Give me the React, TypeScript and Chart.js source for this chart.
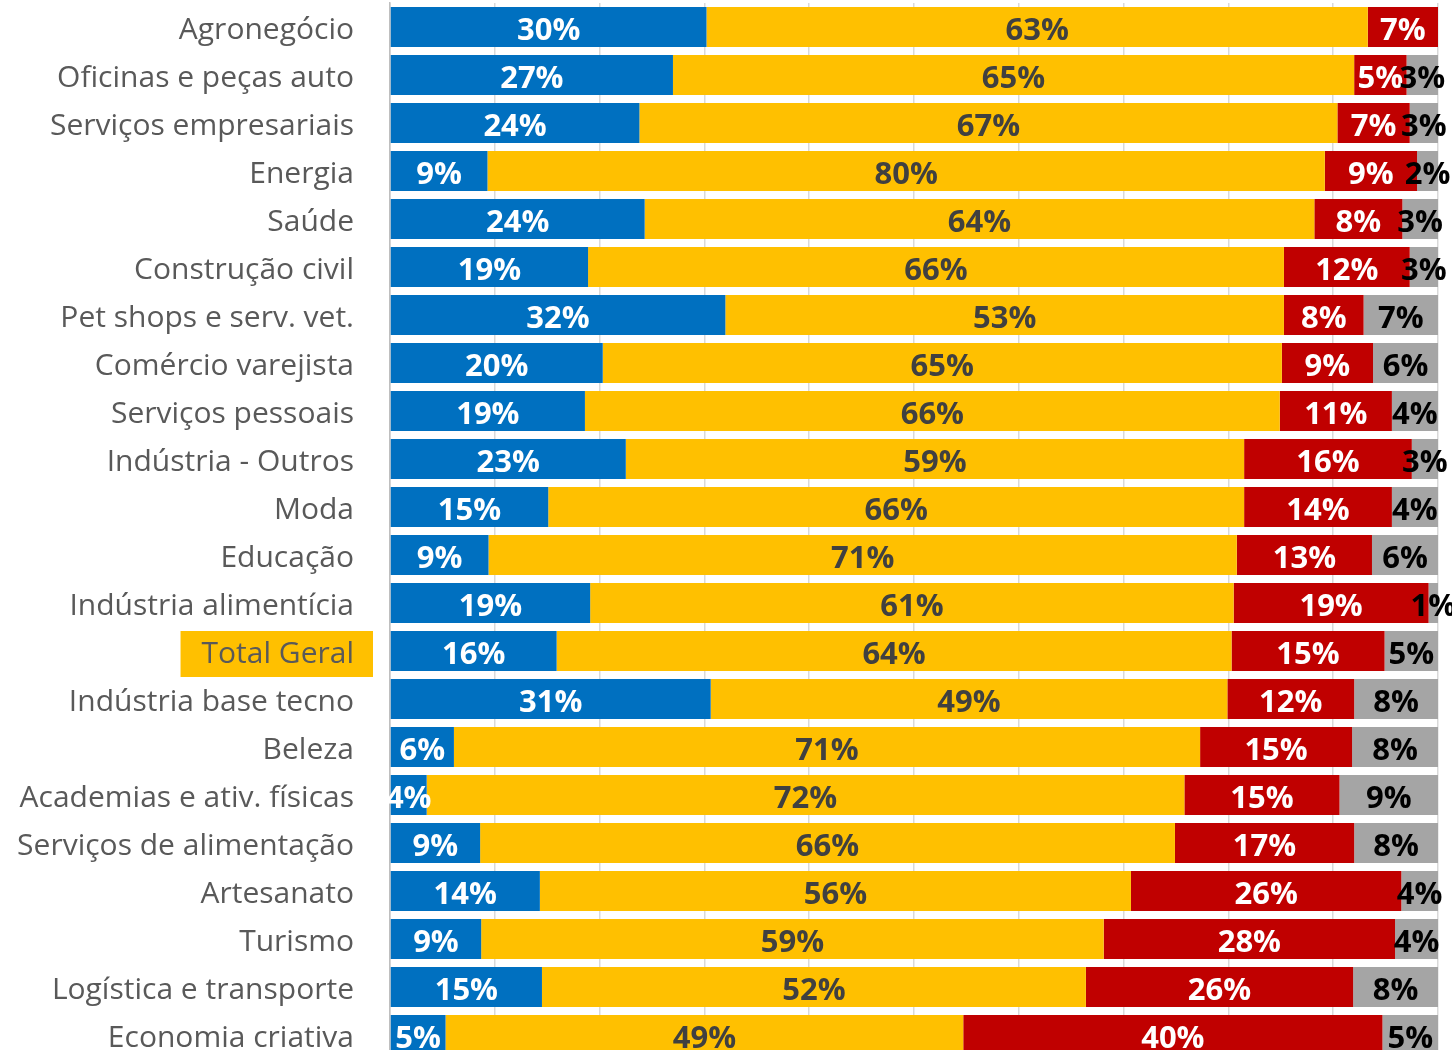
import React, { useEffect, useRef } from "react";
import { Chart, registerables } from "chart.js";

Chart.register(...registerables);

const categories = [
  "Agronegócio",
  "Oficinas e peças auto",
  "Serviços empresariais",
  "Energia",
  "Saúde",
  "Construção civil",
  "Pet shops e serv. vet.",
  "Comércio varejista",
  "Serviços pessoais",
  "Indústria - Outros",
  "Moda",
  "Educação",
  "Indústria alimentícia",
  "Total Geral",
  "Indústria base tecno",
  "Beleza",
  "Academias e ativ. físicas",
  "Serviços de alimentação",
  "Artesanato",
  "Turismo",
  "Logística e transporte",
  "Economia criativa",
];

const serieAzul = [30.2, 27.0, 23.8, 9.3, 24.3, 18.9, 32.0, 20.3, 18.6, 22.5, 15.1, 9.4, 19.1, 15.9, 30.6, 6.1, 3.5, 8.6, 14.3, 8.7, 14.5, 5.3];
const serieAmarela = [63.1, 65.0, 66.6, 79.9, 63.9, 66.4, 53.3, 64.8, 66.3, 59.0, 66.4, 71.4, 61.4, 64.4, 49.3, 71.2, 72.3, 66.3, 56.4, 59.4, 51.9, 49.4];
const serieVermelha = [6.7, 5.0, 6.9, 8.8, 8.4, 12.0, 7.6, 8.7, 10.7, 16.0, 14.1, 12.9, 18.6, 14.6, 12.1, 14.5, 14.8, 17.1, 25.8, 27.8, 25.5, 40.0];
const serieCinza = [0, 3.0, 2.7, 2.0, 3.4, 2.7, 7.1, 6.2, 4.4, 2.5, 4.4, 6.3, 0.9, 5.1, 8.0, 8.2, 9.4, 8.0, 3.5, 4.1, 8.1, 5.3];

const highlightedCategory = "Total Geral";

const seriesColors = ["#0070C0", "#FFC000", "#C00000", "#A5A5A5"];
const labelColors = ["#FFFFFF", "#404040", "#FFFFFF", "#000000"];

const FONT = '"Open Sans", "Noto Sans", sans-serif';

const valueLabels = {
  id: "valueLabels",
  afterDatasetsDraw(chart: any) {
    const ctx = chart.ctx;
    ctx.save();
    ctx.font = `bold 31px ${FONT}`;
    ctx.textAlign = "center";
    ctx.textBaseline = "middle";
    chart.data.datasets.forEach((ds: any, di: number) => {
      const meta = chart.getDatasetMeta(di);
      meta.data.forEach((bar: any, i: number) => {
        const v = ds.data[i];
        if (!v) return;
        const p = bar.getProps(["x", "y", "base"], true);
        ctx.fillStyle = labelColors[di];
        ctx.fillText(Math.round(v) + "%", (p.x + p.base) / 2, p.y + 4);
      });
    });
    ctx.restore();
  },
};

export default function App() {
  const ref = useRef<HTMLCanvasElement>(null);

  useEffect(() => {
    if (!ref.current) return;
    const series = [serieAzul, serieAmarela, serieVermelha, serieCinza];
    const chart = new Chart(ref.current, {
      type: "bar",
      data: {
        labels: categories,
        datasets: series.map((d, i) => ({
          label: "Série " + (i + 1),
          data: d,
          backgroundColor: seriesColors[i],
          borderWidth: 0,
          barPercentage: 40 / 48,
          categoryPercentage: 1,
        })),
      },
      options: {
        indexAxis: "y",
        animation: false,
        responsive: false,
        devicePixelRatio: 1,
        layout: { padding: { top: 3, right: 14, bottom: 0, left: 0 } },
        plugins: {
          legend: { display: false },
          tooltip: { enabled: false },
        },
        scales: {
          x: {
            stacked: true,
            min: 0,
            max: 100,
            ticks: { display: false, stepSize: 10, padding: 0 },
            grid: { color: "#D9D9D9", lineWidth: 1.5, drawTicks: false, tickLength: 0 },
            border: { display: false },
            afterFit: (s: any) => {
              s.height = 0;
              s.paddingLeft = 0;
              s.paddingRight = 0;
              s.paddingTop = 0;
              s.paddingBottom = 0;
            },
          },
          y: {
            stacked: true,
            ticks: {
              color: "#595959",
              font: { family: FONT, size: 30 },
              padding: 36,
              labelOffset: 3,
              autoSkip: false,
              showLabelBackdrop: true,
              backdropColor: (c: any) =>
                categories[c.index] === highlightedCategory ? "#FFC000" : "rgba(0,0,0,0)",
              backdropPadding: { top: 5, bottom: 5, left: 21, right: 19 },
            },
            grid: { display: false, drawTicks: false, tickLength: 0 },
            border: { color: "#BFBFBF", width: 1.5 },
            afterFit: (s: any) => {
              s.width = 390;
              s.paddingTop = 0;
              s.paddingBottom = 0;
              s.paddingLeft = 0;
              s.paddingRight = 0;
            },
          },
        },
      } as any,
      plugins: [valueLabels],
    });
    return () => chart.destroy();
  }, []);

  return (
    <div
      style={{
        position: "fixed",
        left: 0,
        top: 0,
        width: 1452,
        height: 1050,
        overflow: "hidden",
        background: "#fff",
      }}
    >
      <canvas ref={ref} width={1452} height={1059} style={{ display: "block" }} />
    </div>
  );
}
